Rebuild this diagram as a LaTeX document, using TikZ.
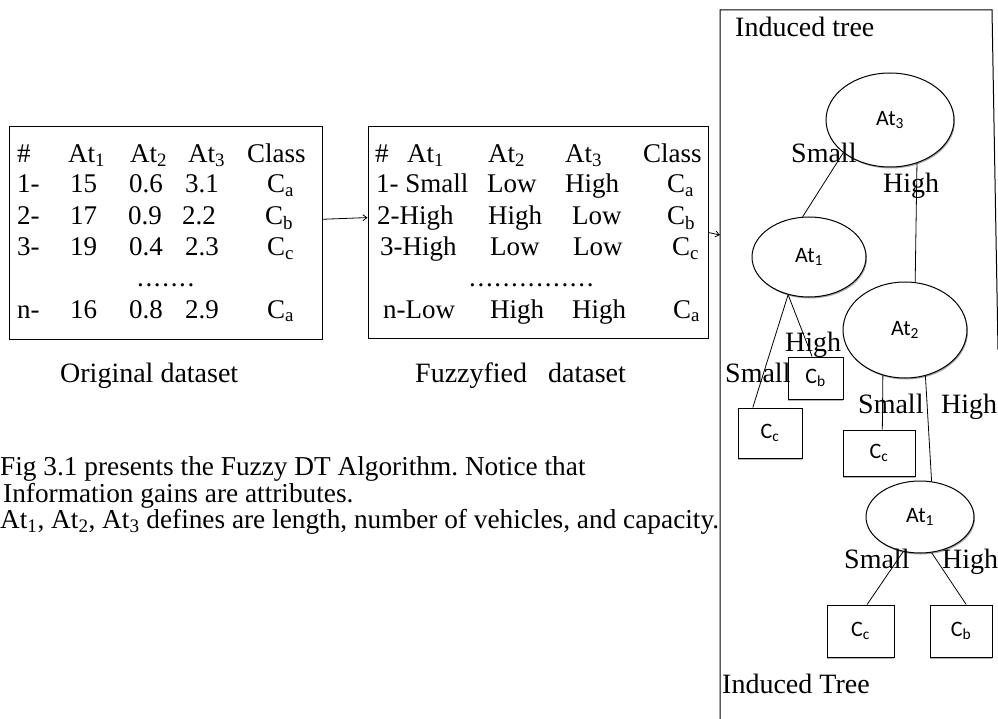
\documentclass[tikz,border=0pt]{standalone}
\usepackage{fontspec}
\setmainfont{Liberation Serif}
\newfontfamily\carl{Carlito}
\usetikzlibrary{shapes.geometric,shadows,calc,arrows.meta}
\newcommand\sbs[1]{\textsubscript{#1}}
\newcommand\dotrow[1]{\foreach\k in {1,...,#1}{\makebox[8.4pt][l]{.}}}
\frenchspacing
\begin{document}
\begin{tikzpicture}[x=1pt,y=-1pt,
  tbl/.style={font=\fontsize{27}{29}\selectfont, anchor=base west, inner sep=0},
  lbl/.style={font=\fontsize{28}{30}\selectfont, anchor=base west, inner sep=0},
  captxt/.style={font=\fontsize{27.3}{29}\selectfont, anchor=base west, inner sep=0},
  frame/.style={draw, line width=1pt, inner sep=0},
  tnode/.style={ellipse, draw, line width=1pt, fill=white, inner sep=0,
    font=\carl\fontsize{22}{24}\selectfont,
    drop shadow={shadow xshift=1pt, shadow yshift=-1.5pt, fill=black!35, opacity=1}},
  leaf/.style={rectangle, draw, line width=1pt, fill=white, inner sep=0,
    font=\carl\fontsize{22}{24}\selectfont,
    drop shadow={shadow xshift=0pt, shadow yshift=-2pt, fill=black!30, opacity=1}},
  conn/.style={line width=0.8pt},
  arr/.style={line width=0.8pt, -{Straight Barb[length=4pt,width=6pt]}}]
\useasboundingbox (0,0) rectangle (998,719);
% dataset boxes
\node[frame, minimum width=313pt, minimum height=212pt] (orig) at (165.5,233) {};
\node[frame, minimum width=340pt, minimum height=211pt] (fuzz) at (538,232.5) {};
% original dataset table
\node[tbl] (o1) at (17,163) {\#};
\node[tbl] (o2) at (68,163) {At\sbs{1}};
\node[tbl] (o3) at (130,163) {At\sbs{2}};
\node[tbl] (o4) at (188,163) {At\sbs{3}};
\node[tbl] (o5) at (247,163) {Class};
\node[tbl] (o6) at (17,193) {1-};
\node[tbl] (o7) at (70,193) {15};
\node[tbl] (o8) at (129,193) {0.6};
\node[tbl] (o9) at (185,193) {3.1};
\node[tbl] (o10) at (267,193) {C\sbs{a}};
\node[tbl] (o11) at (17,225) {2-};
\node[tbl] (o12) at (70,225) {17};
\node[tbl] (o13) at (128,225) {0.9};
\node[tbl] (o14) at (182,225) {2.2};
\node[tbl] (o15) at (265,225) {C\sbs{b}};
\node[tbl] (o16) at (17,256) {3-};
\node[tbl] (o17) at (70,256) {19};
\node[tbl] (o18) at (129,256) {0.4};
\node[tbl] (o19) at (185,256) {2.3};
\node[tbl] (o20) at (267,256) {C\sbs{c}};
\node[tbl] (o21) at (137,287) {\dotrow{7}};
\node[tbl] (o22) at (17,318) {n-};
\node[tbl] (o23) at (70,318) {16};
\node[tbl] (o24) at (129,318) {0.8};
\node[tbl] (o25) at (185,318) {2.9};
\node[tbl] (o26) at (267,318) {C\sbs{a}};
% fuzzyfied table
\node[tbl] (f1) at (375,163) {\#};
\node[tbl] (f2) at (407,163) {At\sbs{1}};
\node[tbl] (f3) at (488,163) {At\sbs{2}};
\node[tbl] (f4) at (565,163) {At\sbs{3}};
\node[tbl] (f5) at (643,163) {Class};
\node[tbl] (f6) at (376,193) {1- Small};
\node[tbl] (f7) at (487,193) {Low};
\node[tbl] (f8) at (565,193) {High};
\node[tbl] (f9) at (667,193) {C\sbs{a}};
\node[tbl] (f10) at (377,225) {2-High};
\node[tbl] (f11) at (488,225) {High};
\node[tbl] (f12) at (572,225) {Low};
\node[tbl] (f13) at (667,225) {C\sbs{b}};
\node[tbl] (f14) at (380,256) {3-High};
\node[tbl] (f15) at (490,256) {Low};
\node[tbl] (f16) at (573,256) {Low};
\node[tbl] (f17) at (672,256) {C\sbs{c}};
\node[tbl] (f18) at (469,287) {\dotrow{15}};
\node[tbl] (f19) at (383,318) {n-Low};
\node[tbl] (f20) at (490,318) {High};
\node[tbl] (f21) at (572,318) {High};
\node[tbl] (f22) at (673,318) {C\sbs{a}};
% captions
\node[lbl] (lo) at (60,382) {Original dataset};
\node[lbl] (lf) at (415,382) {Fuzzyfied\ \ \ dataset};
\node[captxt] (c1) at (0,475) {Fig 3.1 presents the Fuzzy DT Algorithm. Notice that};
\node[captxt] (c2) at (3,502) {Information gains are attributes.};
\node[captxt] (c3) at (0,528) {At\sbs{1}, At\sbs{2}, At\sbs{3} defines are length, number of vehicles, and capacity.};
% tree panel
\coordinate (pbl) at (720,719);
\coordinate (ptl) at (720,10);
\coordinate (ptr) at (992,10);
\coordinate (prb) at (998,350);
\draw[line width=1pt] (pbl) -- (ptl) -- (ptr) -- (prb);
\coordinate (pin) at (720,235);
% arrows
\draw[arr] (orig.5.5) -- (fuzz.175);
\draw[arr] (fuzz.-0.8) -- (pin);
% tree nodes
\node[tnode, minimum width=128pt, minimum height=94pt] (A3) at (890,120) {At\sbs{3}};
\node[tnode, minimum width=114pt, minimum height=80pt] (A1) at (809,257) {At\sbs{1}};
\node[tnode, minimum width=124pt, minimum height=96pt] (A2) at (905,330) {At\sbs{2}};
\node[tnode, minimum width=108pt, minimum height=72pt] (A1b) at (920,517) {At\sbs{1}};
\node[leaf, minimum width=55pt, minimum height=42pt] (Cb1) at (815.5,378) {C\sbs{b}};
\node[leaf, minimum width=64pt, minimum height=50pt] (Cc1) at (770,433) {C\sbs{c}};
\node[leaf, minimum width=72pt, minimum height=46pt] (Cc2) at (879,453) {C\sbs{c}};
\node[leaf, minimum width=67pt, minimum height=52pt] (Cc3) at (860.5,631) {C\sbs{c}};
\node[leaf, minimum width=62pt, minimum height=52pt] (Cb2) at (961,631) {C\sbs{b}};
% tree edges
\draw[conn] (A3.215) -- (A1.99);
\draw[conn] (A3.302) -- (A2.78);
\draw[conn] (A1.241) -- (Cc1.124);
\draw[conn] (A1.241) -- (Cb1.99.5);
\draw[conn] (A2.244) -- (Cc2.82.6);
\draw[conn] (A2.294) -- (A1b.72);
\draw[conn] (A1b.244) -- (Cc3.76);
\draw[conn] (A1b.288) -- (Cb2.79);
% tree labels
\node[lbl] (it) at (735,37) {Induced tree};
\node[lbl] (s1) at (791,163) {Small};
\node[lbl] (h1) at (883,193) {High};
\node[lbl] (h2) at (785,351) {High};
\node[lbl] (s2) at (725,382) {Small};
\node[lbl] (s3) at (858,413) {Small};
\node[lbl] (h3) at (941,413) {High};
\node[lbl] (s4) at (844,568) {Small};
\node[lbl] (h4) at (942,568) {High};
\node[lbl] (iT) at (722,693) {Induced Tree};
\end{tikzpicture}
\end{document}
